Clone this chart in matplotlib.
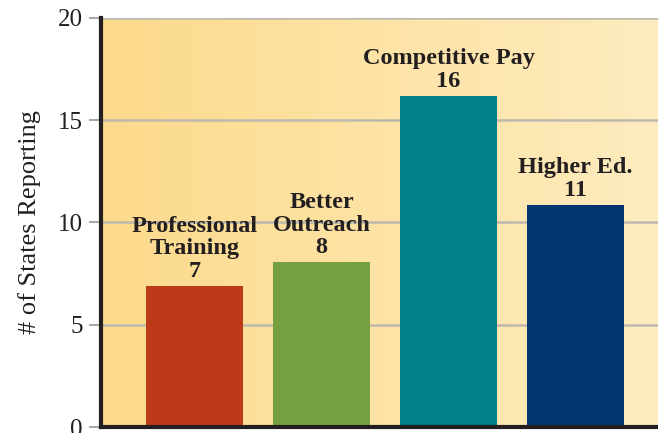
import numpy as np
import matplotlib.pyplot as plt
from matplotlib.colors import LinearSegmentedColormap

# data
categories = ['Professional\nTraining', 'Better\nOutreach', 'Competitive Pay', 'Higher Ed.']
bar_heights = [6.9, 8.05, 16.2, 10.85]
bar_labels = ['7', '8', '16', '11']
bar_colors = ['#bd3a18', '#75a040', '#00818a', '#003572']
y_ticks = [0, 5, 10, 15, 20]

fig = plt.figure(figsize=(6.58, 4.33), dpi=100)
ax = fig.add_axes([101 / 658, 1 - 427 / 433, 557 / 658, 409 / 433])

x = np.arange(len(categories))
xlim = (-0.736, 3.65)
ax.set_xlim(*xlim)
ax.set_ylim(0, 20)

# background gradient, warm yellow on the left to pale on the right
cmap = LinearSegmentedColormap.from_list('bg', ['#fcda8c', '#feecbf'])
grad = np.linspace(0, 1, 256).reshape(1, -1)
ax.imshow(grad, cmap=cmap, aspect='auto', extent=[xlim[0], xlim[1], 0, 20], zorder=0)

for t in y_ticks[1:]:
    ax.axhline(t, color='#bdb9ae', lw=1.8, zorder=1)

ax.bar(x, bar_heights, width=0.76, color=bar_colors, zorder=2)

for xi, h, cat, lab in zip(x, bar_heights, categories, bar_labels):
    ax.text(xi, h + 0.2, cat + '\n' + lab, ha='center', va='bottom',
            fontsize=17.5, fontweight='bold', family='Liberation Serif',
            color='#231f20', linespacing=1.1, zorder=3)

ax.set_yticks(y_ticks)
ax.set_yticklabels([str(t) for t in y_ticks], fontsize=18, family='Liberation Serif', color='#231f20')
ax.tick_params(axis='y', direction='out', length=9, width=1.5, color='#a8a8a8', pad=4)
ax.set_xticks([])
ax.set_ylabel('# of States Reporting', fontsize=19, family='Liberation Serif',
              color='#231f20', labelpad=12)

for s in ['top', 'right']:
    ax.spines[s].set_visible(False)
for s in ['left', 'bottom']:
    ax.spines[s].set_linewidth(3)
    ax.spines[s].set_color('#231f20')
    ax.spines[s].set_zorder(4)

fig.savefig('out.png', dpi=100)
